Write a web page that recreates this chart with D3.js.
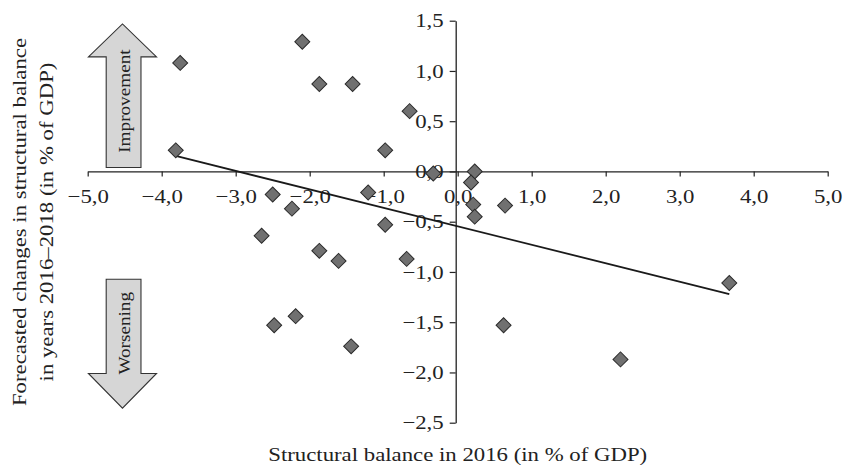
<!DOCTYPE html>
<html><head><meta charset="utf-8">
<script src="https://cdn.jsdelivr.net/npm/d3@7"></script>
<style>
html,body{margin:0;padding:0;background:#fff;}
svg{display:block;}
text{font-family:"Liberation Serif","Times New Roman",serif;fill:#222;}
</style></head>
<body>
<svg id="chart" width="844" height="466"></svg>
<script>
// Data: structural balance 2016 (x) vs forecasted change 2016-2018 (y)
const xValues = [-3.75,-2.10,-1.87,-1.42,-0.65,-3.81,-0.98,-0.33,-2.50,-2.24,-1.21,
                 -2.65,-0.98,-1.87,-1.61,-0.69,-2.48,-2.19,-1.44,
                 0.23,0.18,0.21,0.23,0.64,0.62,3.67,2.20];
const yValues = [1.08,1.29,0.87,0.87,0.60,0.21,0.21,-0.02,-0.23,-0.37,-0.21,
                 -0.64,-0.53,-0.79,-0.89,-0.87,-1.53,-1.44,-1.74,
                 0.00,-0.11,-0.33,-0.45,-0.34,-1.53,-1.11,-1.87];
const trendX = [-3.81, 3.67];
const trendY = [0.154, -1.22];
const xTicks = [-5,-4,-3,-2,-1,0,1,2,3,4,5];
const yTicks = [1.5,1.0,0.5,0.0,-0.5,-1.0,-1.5,-2.0,-2.5];
const xTitle = "Structural balance in 2016 (in % of GDP)";
const yTitleLines = ["Forecasted changes in structural balance","in years 2016\u20132018 (in % of GDP)"];
const arrowLabels = ["Improvement","Worsening"];

const fmt = v => (v < 0 ? "\u2212" : "") + Math.abs(v).toFixed(1).replace(".", ",");
const SX = 1.2; // horizontal stretch of the reference's typeface

const svg = d3.select("#chart");
const x = d3.scaleLinear().domain([-5,5]).range([87.7,827.7]);
const y = d3.scaleLinear().domain([1.5,-2.5]).range([20.7,422.7]);

// Arrows (annotation shapes, positioned through the scales)
function upArrow(x0,x1,hx0,hx1,yb,yh,yt){
  return `M${x(x0)},${y(yb)}L${x(x0)},${y(yh)}L${x(hx0)},${y(yh)}L${(x(hx0)+x(hx1))/2},${y(yt)}L${x(hx1)},${y(yh)}L${x(x1)},${y(yh)}L${x(x1)},${y(yb)}Z`;
}
const arrowG = svg.append("g");
arrowG.append("path").attr("d", upArrow(-4.75,-4.28,-4.99,-4.07,0.04,1.14,1.468))
  .attr("fill","#d6d6d6").attr("stroke","#333").attr("stroke-width",1.1);
arrowG.append("path").attr("d", upArrow(-4.75,-4.28,-4.99,-4.07,-1.073,-2.01,-2.355))
  .attr("fill","#d6d6d6").attr("stroke","#333").attr("stroke-width",1.1);
const ax = (x(-4.75)+x(-4.28))/2;
arrowG.append("text").attr("transform",`translate(${ax+1},${y(0.70)}) rotate(-90) scale(${SX},1)`)
  .attr("text-anchor","middle").attr("dominant-baseline","central")
  .style("font-size","16px").text(arrowLabels[0]);
arrowG.append("text").attr("transform",`translate(${ax+1},${y(-1.61)}) rotate(-90) scale(${SX},1)`)
  .attr("text-anchor","middle").attr("dominant-baseline","central")
  .style("font-size","16px").text(arrowLabels[1]);

// X axis at y=0
const xAxis = d3.axisBottom(x).tickValues(xTicks).tickFormat(fmt).tickSize(5).tickSizeOuter(0);
const gx = svg.append("g").attr("transform",`translate(0,${y(0)})`).call(xAxis);
gx.select(".domain").attr("stroke","#222").attr("stroke-width",1.3);
gx.selectAll(".tick line").attr("stroke","#222").attr("stroke-width",1.2);
gx.selectAll(".tick text").attr("y",18).attr("transform",`scale(${SX},1)`)
  .style("font-size","19px").style("font-family",'"Liberation Serif",serif').attr("fill","#222");

// Y axis at x=0
const yAxis = d3.axisLeft(y).tickValues(yTicks).tickFormat(fmt).tickSize(6).tickSizeOuter(0);
const gy = svg.append("g").attr("transform",`translate(${x(0)-2},0)`).call(yAxis);
gy.select(".domain").attr("stroke","#222").attr("stroke-width",1.3);
gy.selectAll(".tick line").attr("stroke","#222").attr("stroke-width",1.2);
gy.selectAll(".tick text").attr("x",-12/SX).attr("transform",`scale(${SX},1)`)
  .style("font-size","19px").style("font-family",'"Liberation Serif",serif').attr("fill","#222");

// Trend line
svg.append("line")
  .attr("x1",x(trendX[0])).attr("y1",y(trendY[0]))
  .attr("x2",x(trendX[1])).attr("y2",y(trendY[1]))
  .attr("stroke","#1a1a1a").attr("stroke-width",1.8);

// Points (diamonds)
const diamond = d3.symbol().type(d3.symbolSquare).size(112);
svg.append("g").selectAll("path").data(xValues.map((v,i)=>[v,yValues[i]])).join("path")
  .attr("d", diamond)
  .attr("transform", d => `translate(${x(d[0])},${y(d[1])}) rotate(45)`)
  .attr("fill","#707070").attr("stroke","#2a2a2a").attr("stroke-width",1);

// Axis titles
svg.append("text").attr("transform",`translate(${x(0)},461) scale(${SX},1)`).attr("text-anchor","middle")
  .style("font-size","19px").text(xTitle);
const yt = svg.append("text").attr("transform",`translate(19,222) rotate(-90) scale(${SX},1)`)
  .attr("text-anchor","middle").style("font-size","19px");
yTitleLines.forEach((l,i)=> yt.append("tspan").attr("x",0).attr("dy", i===0 ? "0.35em" : "27").text(l));
</script>
</body></html>
